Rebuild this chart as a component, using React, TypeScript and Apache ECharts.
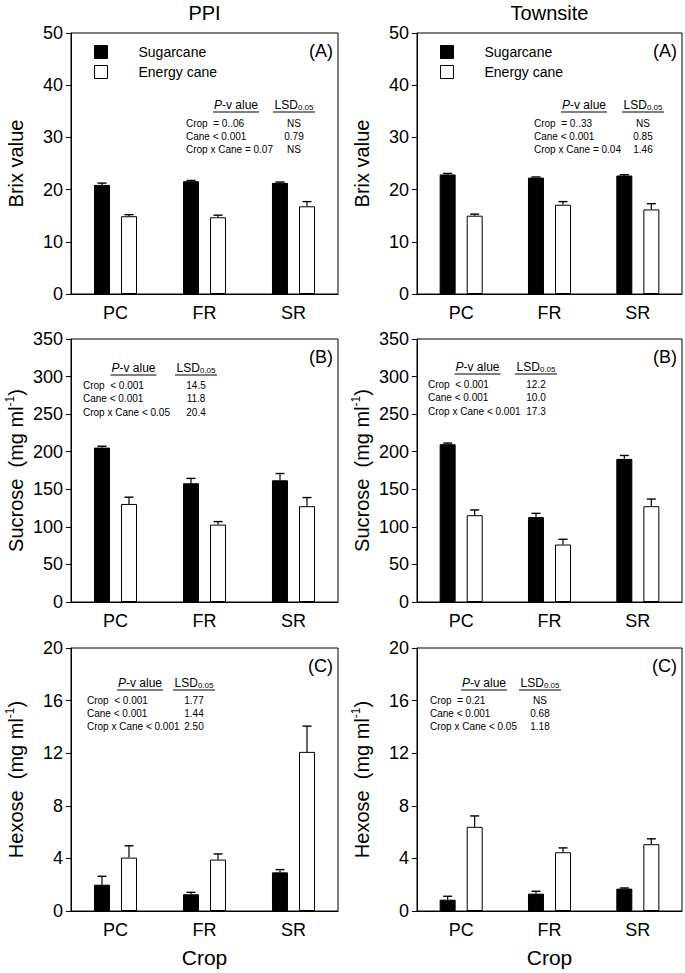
import React, { useEffect, useRef } from "react";
import * as echarts from "echarts";

const categories = ["PC", "FR", "SR"];
const seriesNames = ["Sugarcane", "Energy cane"];
const columnTitles = ["PPI", "Townsite"];
const panelLetters = ["(A)", "(B)", "(C)"];

// Brix value
const brixPPISugar = [20.9, 21.6, 21.3];
const brixPPISugarErr = [0.35, 0.15, 0.15];
const brixPPIEnergy = [14.9, 14.7, 16.8];
const brixPPIEnergyErr = [0.3, 0.4, 0.9];
const brixTownSugar = [22.9, 22.3, 22.7];
const brixTownSugarErr = [0.2, 0.12, 0.15];
const brixTownEnergy = [15.0, 17.1, 16.2];
const brixTownEnergyErr = [0.3, 0.6, 1.1];

// Sucrose (mg ml-1)
const sucPPISugar = [205.5, 158, 162];
const sucPPISugarErr = [1.8, 6.5, 9];
const sucPPIEnergy = [130.5, 103, 127.5];
const sucPPIEnergyErr = [9, 4, 11.5];
const sucTownSugar = [210, 113, 190.5];
const sucTownSugarErr = [1.5, 5, 4.5];
const sucTownEnergy = [115.5, 76.5, 127.5];
const sucTownEnergyErr = [7, 7, 9.5];

// Hexose (mg ml-1)
const hexPPISugar = [2.0, 1.27, 2.94];
const hexPPISugarErr = [0.64, 0.15, 0.21];
const hexPPIEnergy = [4.06, 3.91, 12.1];
const hexPPIEnergyErr = [0.9, 0.43, 1.96];
const hexTownSugar = [0.86, 1.32, 1.7];
const hexTownSugarErr = [0.26, 0.18, 0.05];
const hexTownEnergy = [6.4, 4.47, 5.08];
const hexTownEnergyErr = [0.83, 0.33, 0.41];

// y axis ranges
const brixMax = 50, brixStep = 10;
const sucMax = 350, sucStep = 50;
const hexMax = 20, hexStep = 4;

// statistics text
const statsPPIA = [["Crop  = 0..06", "NS"], ["Cane < 0.001", "0.79"], ["Crop x Cane = 0.07", "NS"]];
const statsTownA = [["Crop  = 0..33", "NS"], ["Cane < 0.001", "0.85"], ["Crop x Cane = 0.04", "1.46"]];
const statsPPIB = [["Crop  < 0.001", "14.5"], ["Cane < 0.001", "11.8"], ["Crop x Cane < 0.05", "20.4"]];
const statsTownB = [["Crop  < 0.001", "12.2"], ["Cane < 0.001", "10.0"], ["Crop x Cane < 0.001", "17.3"]];
const statsPPIC = [["Crop  < 0.001", "1.77"], ["Cane < 0.001", "1.44"], ["Crop x Cane < 0.001", "2.50"]];
const statsTownC = [["Crop  = 0.21", "NS"], ["Cane < 0.001", "0.68"], ["Crop x Cane < 0.05", "1.18"]];

const FONT = "Liberation Sans, Arial, sans-serif";

const colLeft = [71, 417];
const colWidth = [267, 265];
const rowTop = [33, 339, 648];
const rowHeight = [261, 263, 263];

export default function App() {
  const ref = useRef<HTMLDivElement>(null);

  useEffect(() => {
    document.body.style.margin = "0";
    const chart = echarts.init(ref.current!, null, { renderer: "svg" });

    const panels = [
      { col: 0, row: 0, name: "Brix value", sup: false, max: brixMax, step: brixStep, s: brixPPISugar, se: brixPPISugarErr, e: brixPPIEnergy, ee: brixPPIEnergyErr, stats: statsPPIA },
      { col: 1, row: 0, name: "Brix value", sup: false, max: brixMax, step: brixStep, s: brixTownSugar, se: brixTownSugarErr, e: brixTownEnergy, ee: brixTownEnergyErr, stats: statsTownA },
      { col: 0, row: 1, name: "Sucrose  (mg ml", sup: true, max: sucMax, step: sucStep, s: sucPPISugar, se: sucPPISugarErr, e: sucPPIEnergy, ee: sucPPIEnergyErr, stats: statsPPIB },
      { col: 1, row: 1, name: "Sucrose  (mg ml", sup: true, max: sucMax, step: sucStep, s: sucTownSugar, se: sucTownSugarErr, e: sucTownEnergy, ee: sucTownEnergyErr, stats: statsTownB },
      { col: 0, row: 2, name: "Hexose  (mg ml", sup: true, max: hexMax, step: hexStep, s: hexPPISugar, se: hexPPISugarErr, e: hexPPIEnergy, ee: hexPPIEnergyErr, stats: statsPPIC },
      { col: 1, row: 2, name: "Hexose  (mg ml", sup: true, max: hexMax, step: hexStep, s: hexTownSugar, se: hexTownSugarErr, e: hexTownEnergy, ee: hexTownEnergyErr, stats: statsTownC },
    ];

    // stats block layout (header y, row x, p-value centre, LSD centre)
    const statsLayout = [
      { hy: 105, ry: 123, rx: 186, pc: 236, lc: 294 },
      { hy: 105, ry: 123, rx: 534, pc: 584, lc: 643 },
      { hy: 368, ry: 385.5, rx: 83, pc: 133.5, lc: 196 },
      { hy: 367, ry: 384.5, rx: 428, pc: 477.5, lc: 536 },
      { hy: 683, ry: 700, rx: 87, pc: 140, lc: 194 },
      { hy: 683, ry: 700, rx: 430, pc: 484, lc: 540 },
    ];

    const grids: any[] = [];
    const xAxes: any[] = [];
    const yAxes: any[] = [];
    const series: any[] = [];
    const graphics: any[] = [];

    const errSeries = (gi: number, vals: number[], errs: number[], offset: number) => ({
      type: "custom",
      xAxisIndex: gi,
      yAxisIndex: gi,
      z: 5,
      silent: true,
      data: vals.map((v, i) => [i, v, errs[i]]),
      encode: { x: 0, y: 1 },
      renderItem: (params: any, api: any) => {
        const idx = api.value(0);
        const v = api.value(1);
        const e = api.value(2);
        const b = api.coord([idx, v]);
        const t = api.coord([idx, v + e]);
        const x = b[0] + offset;
        return {
          type: "group",
          children: [
            { type: "line", shape: { x1: x, y1: b[1], x2: x, y2: t[1] }, style: { stroke: "#000", lineWidth: 1.2 } },
            { type: "line", shape: { x1: x - 4.5, y1: t[1], x2: x + 4.5, y2: t[1] }, style: { stroke: "#000", lineWidth: 1.4 } },
          ],
        };
      },
    });

    panels.forEach((p, gi) => {
      const left = colLeft[p.col];
      const width = colWidth[p.col];
      const top = rowTop[p.row];
      const height = rowHeight[p.row];
      grids.push({ left, top, width, height, show: true, borderColor: "#000", borderWidth: 1, backgroundColor: "transparent" });
      xAxes.push({
        type: "category",
        gridIndex: gi,
        data: categories,
        axisLine: { lineStyle: { color: "#000", width: 1 } },
        axisTick: { alignWithLabel: true, length: 5, lineStyle: { color: "#000" } },
        axisLabel: { color: "#000", fontSize: 18, fontFamily: FONT, margin: 10 },
        name: p.row === 2 ? "Crop" : "",
        nameLocation: "middle",
        nameGap: 36,
        nameTextStyle: { color: "#000", fontSize: 21, fontFamily: FONT },
      });
      yAxes.push({
        type: "value",
        gridIndex: gi,
        min: 0,
        max: p.max,
        interval: p.step,
        splitLine: { show: false },
        axisLine: { show: true, lineStyle: { color: "#000", width: 1 } },
        axisTick: { show: true, length: 5, lineStyle: { color: "#000" } },
        axisLabel: { color: "#000", fontSize: 18, fontFamily: FONT, margin: 8 },
        name: p.sup ? p.name + "{sup|-1}{n|)}" : p.name,
        nameLocation: "middle",
        nameGap: 43,
        nameRotate: 90,
        nameTextStyle: {
          color: "#000",
          fontSize: 20,
          fontFamily: FONT,
          lineHeight: 24,
          rich: {
            sup: { fontSize: 12, fontFamily: FONT, color: "#000", verticalAlign: "top", lineHeight: 14 },
            n: { fontSize: 20, fontFamily: FONT, color: "#000", lineHeight: 24 },
          },
        },
      });
      series.push({
        type: "bar",
        name: seriesNames[0],
        xAxisIndex: gi,
        yAxisIndex: gi,
        data: p.s,
        barWidth: 16,
        barGap: "69%",
        itemStyle: { color: "#000", borderColor: "#000", borderWidth: 1 },
      });
      series.push({
        type: "bar",
        name: seriesNames[1],
        xAxisIndex: gi,
        yAxisIndex: gi,
        data: p.e,
        barWidth: 16,
        barGap: "69%",
        itemStyle: { color: "#fff", borderColor: "#000", borderWidth: 1 },
      });
      series.push(errSeries(gi, p.s, p.se, -13.5));
      series.push(errSeries(gi, p.e, p.ee, 13.5));

      // panel letter
      graphics.push({
        type: "text",
        x: left + width - 5,
        y: top + 18,
        style: { text: panelLetters[p.row], fontSize: 18, fontFamily: FONT, fill: "#000", align: "right", verticalAlign: "middle" },
      });

      // stats block
      const L = statsLayout[gi];
      graphics.push({
        type: "text",
        x: L.pc,
        y: L.hy,
        style: {
          text: "{i|P}-v alue",
          fontSize: 12,
          fontFamily: FONT,
          fill: "#000",
          align: "center",
          verticalAlign: "middle",
          rich: { i: { fontStyle: "italic", fontSize: 12, fontFamily: FONT, fill: "#000" } },
        },
      });
      graphics.push({ type: "line", shape: { x1: L.pc - 23, y1: L.hy + 7, x2: L.pc + 23, y2: L.hy + 7 }, style: { stroke: "#000", lineWidth: 1 } });
      graphics.push({
        type: "text",
        x: L.lc,
        y: L.hy,
        style: {
          text: "LSD{s|0.05}",
          fontSize: 12,
          fontFamily: FONT,
          fill: "#000",
          align: "center",
          verticalAlign: "middle",
          rich: { s: { fontSize: 8, fontFamily: FONT, fill: "#000", verticalAlign: "bottom", lineHeight: 12 } },
        },
      });
      graphics.push({ type: "line", shape: { x1: L.lc - 21, y1: L.hy + 7, x2: L.lc + 21, y2: L.hy + 7 }, style: { stroke: "#000", lineWidth: 1 } });
      p.stats.forEach((r, ri) => {
        const y = L.ry + ri * 13.3;
        graphics.push({ type: "text", x: L.rx, y, style: { text: r[0], fontSize: 10, fontFamily: FONT, fill: "#000", align: "left", verticalAlign: "middle" } });
        graphics.push({ type: "text", x: L.lc, y, style: { text: r[1], fontSize: 10, fontFamily: FONT, fill: "#000", align: "center", verticalAlign: "middle" } });
      });
    });

    // column titles
    columnTitles.forEach((t, c) => {
      graphics.push({
        type: "text",
        x: colLeft[c] + colWidth[c] / 2,
        y: 13,
        style: { text: t, fontSize: 20, fontFamily: FONT, fill: "#000", align: "center", verticalAlign: "middle" },
      });
    });

    const legendData = [
      { name: seriesNames[0], itemStyle: { color: "#000", borderColor: "#000", borderWidth: 1 } },
      { name: seriesNames[1], itemStyle: { color: "#fff", borderColor: "#000", borderWidth: 1 } },
    ];
    const legends = [0, 1].map((c) => ({
      orient: "vertical",
      left: colLeft[c] + 18,
      top: 40,
      itemWidth: 13,
      itemHeight: 13,
      itemGap: 6,
      icon: "rect",
      selectedMode: false,
      data: legendData,
      textStyle: { fontSize: 14, fontFamily: FONT, color: "#000", padding: [0, 0, 0, 26] },
    }));

    chart.setOption({
      animation: false,
      backgroundColor: "#fff",
      textStyle: { fontFamily: FONT },
      grid: grids,
      xAxis: xAxes,
      yAxis: yAxes,
      legend: legends,
      series,
      graphic: graphics,
    });

    return () => chart.dispose();
  }, []);

  return <div ref={ref} style={{ position: "fixed", left: 0, top: 0, width: 685, height: 973 }} />;
}
